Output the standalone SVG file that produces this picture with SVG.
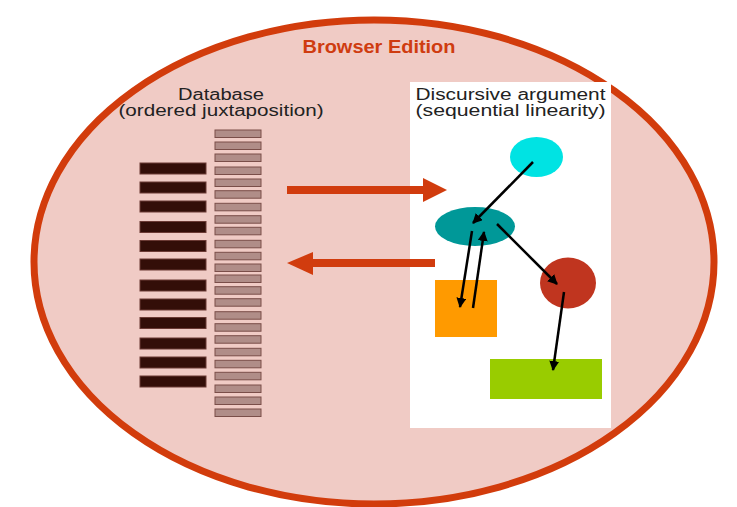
<svg xmlns="http://www.w3.org/2000/svg" width="737" height="507" viewBox="0 0 737 507">
<defs>
<style>
.lbl{font-family:"Liberation Sans",Arial,sans-serif;font-size:16px;fill:#222;}
.title{font-family:"Liberation Sans",Arial,sans-serif;font-size:18px;font-weight:bold;fill:#cf3c10;}
.dk{fill:#330e08;stroke:#6b3a34;stroke-width:1;}
.lt{fill:#b08d88;stroke:#7a4e49;stroke-width:1;}
.blk{stroke:#000;stroke-width:2.5;fill:none;marker-end:url(#ah);}
.red{stroke:#d13c0e;stroke-width:8;fill:none;}
</style>
<marker id="ah" viewBox="0 0 10 10" refX="9" refY="5" markerWidth="4" markerHeight="4" orient="auto" markerUnits="strokeWidth">
<path d="M0,0 L10,5 L0,10 z" fill="#000"/>
</marker>
</defs>
<rect width="737" height="507" fill="#fff"/>
<g id="browser">
<ellipse cx="374" cy="262" rx="340" ry="242" fill="#f0cbc5" stroke="#d23c0c" stroke-width="7"/>
<text class="title" x="379" y="53" text-anchor="middle" textLength="153" lengthAdjust="spacingAndGlyphs">Browser Edition</text>
</g>
<g id="database">
<text class="lbl" x="221" y="100" text-anchor="middle" textLength="86" lengthAdjust="spacingAndGlyphs">Database</text>
<text class="lbl" x="221" y="116" text-anchor="middle" textLength="205" lengthAdjust="spacingAndGlyphs">(ordered juxtaposition)</text>
<rect class="dk" x="140" y="163" width="66" height="11"/>
<rect class="dk" x="140" y="182" width="66" height="11"/>
<rect class="dk" x="140" y="201" width="66" height="11"/>
<rect class="dk" x="140" y="221.5" width="66" height="11"/>
<rect class="dk" x="140" y="240.5" width="66" height="11"/>
<rect class="dk" x="140" y="259" width="66" height="11"/>
<rect class="dk" x="140" y="280" width="66" height="11"/>
<rect class="dk" x="140" y="299" width="66" height="11"/>
<rect class="dk" x="140" y="317.5" width="66" height="11"/>
<rect class="dk" x="140" y="338" width="66" height="11"/>
<rect class="dk" x="140" y="357" width="66" height="11"/>
<rect class="dk" x="140" y="376" width="66" height="11"/>
<rect class="lt" x="215" y="130" width="46" height="7.5"/>
<rect class="lt" x="215" y="142" width="46" height="7.5"/>
<rect class="lt" x="215" y="154" width="46" height="7.5"/>
<rect class="lt" x="215" y="167" width="46" height="7.5"/>
<rect class="lt" x="215" y="179" width="46" height="7.5"/>
<rect class="lt" x="215" y="190.7" width="46" height="7.5"/>
<rect class="lt" x="215" y="203.3" width="46" height="7.5"/>
<rect class="lt" x="215" y="215.7" width="46" height="7.5"/>
<rect class="lt" x="215" y="227.3" width="46" height="7.5"/>
<rect class="lt" x="215" y="240.3" width="46" height="7.5"/>
<rect class="lt" x="215" y="252.3" width="46" height="7.5"/>
<rect class="lt" x="215" y="264" width="46" height="7.5"/>
<rect class="lt" x="215" y="275" width="46" height="7.5"/>
<rect class="lt" x="215" y="286.7" width="46" height="7.5"/>
<rect class="lt" x="215" y="298.7" width="46" height="7.5"/>
<rect class="lt" x="215" y="311.7" width="46" height="7.5"/>
<rect class="lt" x="215" y="323.7" width="46" height="7.5"/>
<rect class="lt" x="215" y="335.7" width="46" height="7.5"/>
<rect class="lt" x="215" y="348.3" width="46" height="7.5"/>
<rect class="lt" x="215" y="360.3" width="46" height="7.5"/>
<rect class="lt" x="215" y="372.3" width="46" height="7.5"/>
<rect class="lt" x="215" y="385" width="46" height="7.5"/>
<rect class="lt" x="215" y="397" width="46" height="7.5"/>
<rect class="lt" x="215" y="409" width="46" height="7.5"/>
</g>
<g id="argument">
<rect x="410" y="82" width="201" height="346" fill="#fff"/>
<text class="lbl" x="510.5" y="100" text-anchor="middle" textLength="190" lengthAdjust="spacingAndGlyphs">Discursive argument</text>
<text class="lbl" x="510.5" y="116" text-anchor="middle" textLength="190" lengthAdjust="spacingAndGlyphs">(sequential linearity)</text>
</g>
<g id="cyan"><ellipse cx="536.5" cy="157" rx="26.5" ry="20" fill="#00e3e3"/></g>
<g id="teal"><ellipse cx="475" cy="226.5" rx="40" ry="19.5" fill="#009898"/></g>
<g id="redcircle"><ellipse cx="568" cy="283" rx="28" ry="25.5" fill="#c0351f"/></g>
<g id="orange"><rect x="435" y="280" width="62" height="57" fill="#ff9a00"/></g>
<g id="green"><rect x="490" y="359" width="112" height="40" fill="#99cc00"/></g>
<g id="connectors">
<path class="red" d="M287,190 H425"/>
<path d="M423,178 L447,190 L423,202 z" fill="#d13c0e"/>
<path class="red" d="M435,263 H311"/>
<path d="M313,252 L287,263 L313,275 z" fill="#d13c0e"/>
<path class="blk" d="M533,162 L473,223"/>
<path class="blk" d="M472,231 L460,307"/>
<path class="blk" d="M473,308 L484,232"/>
<path class="blk" d="M497,224 L557,284"/>
<path class="blk" d="M564,292 L553,370"/>
</g>
</svg>
